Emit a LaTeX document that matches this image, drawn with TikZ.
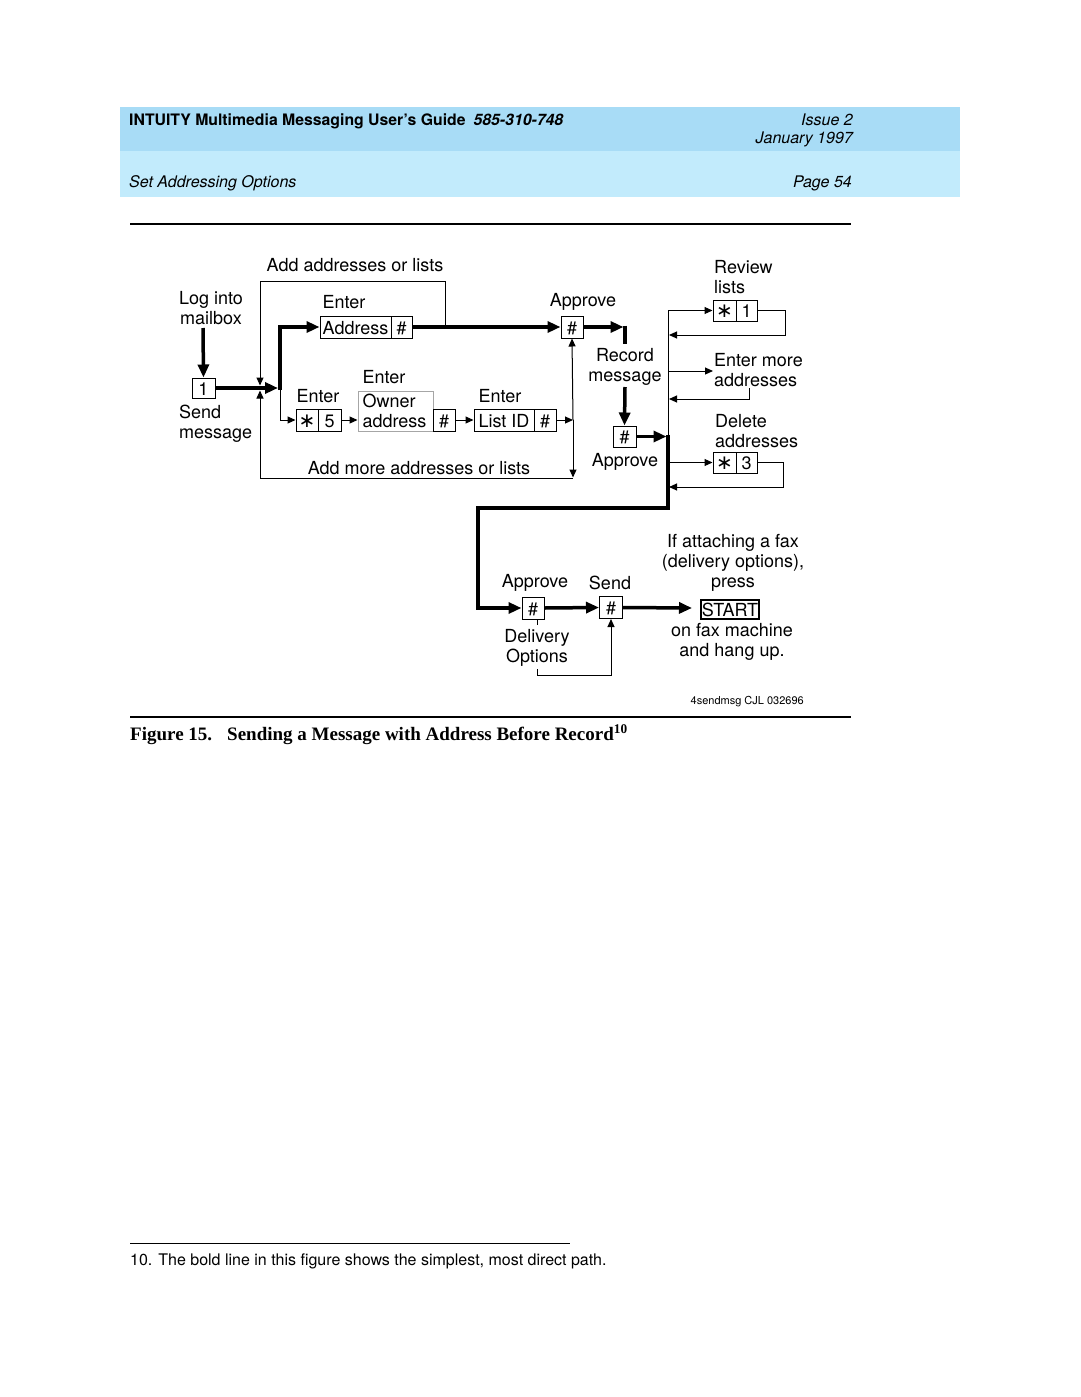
\documentclass[tikz,border=0pt]{standalone}
\usepackage{fontspec}
\setmainfont{TeX Gyre Heros}
\newfontfamily\capfont{Liberation Serif}
\newfontfamily\symfont{DejaVu Sans}
\usetikzlibrary{arrows.meta}
\definecolor{hdrA}{RGB}{168,220,246}
\definecolor{hdrB}{RGB}{194,235,252}
\newcommand{\keystar}{{\symfont\fontsize{20}{20}\selectfont ∗}}
\begin{document}
\begin{tikzpicture}[x=1pt,y=-1pt,line join=miter,
  txt/.style={font=\fontsize{18}{20}\selectfont, inner sep=0pt, align=center},
  ltxt/.style={font=\fontsize{18}{20}\selectfont, inner sep=0pt, align=left},
  key/.style={draw, line width=1pt, inner sep=0pt, minimum height=22pt, text height=14pt, text depth=0pt, font=\fontsize{18}{20}\selectfont},
  thinln/.style={line width=1pt},
  thinar/.style={line width=1pt, -{Triangle[length=8pt,width=7pt]}},
  boldln/.style={line width=3.5pt},
  boldar/.style={line width=3.5pt, -{Triangle[length=13pt,width=11pt]}},
  hdr/.style={inner sep=0pt, font=\fontsize{16}{18}\selectfont},
]
\useasboundingbox (0,0) rectangle (1080,1397);
% header
\fill[hdrA] (120,107) rectangle (960,151);
\fill[hdrB] (120,151) rectangle (960,197);
\node[hdr, anchor=base west, font=\fontsize{15.8}{18}\selectfont] (title) at (129,125) {\bfseries INTUITY Multimedia Messaging User’s Guide\hspace{8pt}\itshape 585-310-748};
\node[hdr, anchor=base east] (issue) at (853,125) {\itshape Issue 2};
\node[hdr, anchor=base east] (date) at (853,143) {\itshape January 1997};
\node[hdr, anchor=base west] (sect) at (129,187) {\itshape Set Addressing Options};
\node[hdr, anchor=base east] (page) at (852,187) {\itshape Page 54};
\draw[line width=2pt] (130,224) -- (851,224);

% left part
\node[txt] (login) at (211,308) {Log into\\mailbox};
\node[key, minimum width=23pt, minimum height=20pt] (one) at (203.5,388) {1};
\node[ltxt, anchor=west] (sendmsg) at (179,424) {Send\\message};
\draw[boldar] (203,328) -- (one.north);
\coordinate (J) at (280,388);
\draw[boldar] (one.east) -- (278,388);

\node[txt] (addlists) at (355,265) {Add addresses or lists};
\node[txt] (enter1) at (344,302) {Enter};
\node[key, minimum width=71pt] (addrA) at (355.5,327) {Address};
\node[key, minimum width=21pt] (addrB) at (401.5,327) {\#};
\draw[boldar] (280,390) -- (280,327) -- (addrA.west);

\node[txt] (enter2) at (318,396) {Enter};
\node[key, minimum width=22pt] (star5A) at (307,420) {\keystar};
\node[key, minimum width=23pt] (star5B) at (329.5,420) {5};
\draw[thinar] (J) -- (280,420) -- (star5A.west);

\node[txt] (enter3) at (384,377) {Enter};
\node[ltxt, draw=black!35, line width=1pt, minimum width=75pt, minimum height=40pt, text width=66pt] (owner) at (395.5,411) {Owner\\address};
\node[key, minimum width=22pt] (ownHash) at (444,420) {\#};
\draw[thinar] (star5B.east) -- (owner.west |- star5B.east);

\node[txt] (enter4) at (500,396) {Enter};
\node[key, minimum width=60pt] (listA) at (504,420) {List ID};
\node[key, minimum width=22pt] (listB) at (545,420) {\#};
\draw[thinar] (ownHash.east) -- (listA.west);

\node[txt] (approve1) at (583,302) {Approve};
\node[key, minimum width=22pt] (hash1) at (572,327) {\#};
\draw[boldar] (addrB.east) -- (hash1.west);
\draw[thinln] (445,327) -- (445,281) -- (260,281);
\draw[thinar] (260,281) -- (260,385.5);

\coordinate (V) at (573,420);
\draw[thinar] (listB.east) -- (V);
\draw[thinar] (V) -- (hash1.south);
\draw[thinar] (V) -- (573,477.5);
\draw[thinar] (573,478) -- (260,478) -- (260,390.5);
\node[txt] (addmore) at (419,468) {Add more addresses or lists};

% record
\draw[boldar] (hash1.east) -- (623.5,327);
\draw[boldln] (625,325.5) -- (625,344);
\node[txt] (record) at (625,367) {Record\\message};
\node[key, minimum width=23pt, minimum height=21pt] (hash2) at (624.5,436.5) {\#};
\draw[boldar] (625,387) -- (hash2.north);
\node[txt] (approve2) at (625,462) {Approve};
\draw[boldar] (hash2.east) -- (666.5,436.5);

% right side
\node[ltxt, anchor=west] (review) at (714,277) {Review\\lists};
\node[key, minimum width=23pt, minimum height=21pt] (star1A) at (724.5,310.5) {\keystar};
\node[key, minimum width=21pt, minimum height=21pt] (star1B) at (746.5,310.5) {1};
\draw[thinar] (668,436) -- (668,310.5) -- (star1A.west);
\draw[thinar] (star1B.east) -- (785,310.5) -- (785,335) -- (669,335);

\node[ltxt, anchor=west] (entermore) at (714,370) {Enter more\\addresses};
\draw[thinar] (668,371) -- (713,371);
\draw[thinar] (749,388) -- (749,399) -- (669,399);

\node[ltxt, anchor=west] (delete) at (715,431) {Delete\\addresses};
\node[key, minimum width=23pt, minimum height=21pt] (star3A) at (724.5,462.5) {\keystar};
\node[key, minimum width=21pt, minimum height=21pt] (star3B) at (746.5,462.5) {3};
\draw[thinar] (668,462.5) -- (star3A.west);
\draw[thinar] (star3B.east) -- (783,462.5) -- (783,487) -- (669,487);

% bottom part
\node[txt] (approve3) at (535,583) {Approve};
\node[key, minimum width=22pt] (hash3) at (533,608) {\#};
\draw[boldar] (668,434.5) -- (668,508) -- (478,508) -- (478,608) -- (hash3.west);
\node[txt] (send) at (610,583) {Send};
\node[key, minimum width=23pt] (hash4) at (611,607.5) {\#};
\draw[boldar] (hash3.east) -- (hash4.west);
\node[draw, line width=2pt, inner xsep=0.5pt, inner ysep=0pt, minimum height=19pt, text height=14pt, text depth=0pt, font=\fontsize{18}{20}\selectfont] (start) at (730,609) {START};
\draw[boldar] (hash4.east) -- (692,608);
\node[txt] (fax1) at (733,563) {If attaching a fax\\(delivery options),\\press};
\node[txt] (fax2) at (732,642) {on fax machine\\and hang up.};
\node[txt] (delivery) at (537,648) {Delivery\\Options};
\draw[thinln] (537,619) -- (537,625);
\draw[thinar] (537,669) -- (537,675.5) -- (611,675.5) -- (hash4.south);

\node[inner sep=0pt, anchor=base east, font=\fontsize{11}{12}\selectfont] (code) at (804,704) {4sendmsg CJL 032696};

% caption
\draw[line width=1.5pt] (130,717) -- (851,717);
\node[inner sep=0pt, anchor=base west, font=\capfont\bfseries\fontsize{19}{22}\selectfont] (figno) at (130,740) {Figure 15.};
\node[inner sep=0pt, anchor=base west, font=\capfont\bfseries\fontsize{19}{22}\selectfont] (captxt) at (227,740) {Sending a Message with Address Before Record\textsuperscript{10}};

% footnote
\draw[line width=1pt] (130,1243) -- (570,1243);
\node[inner sep=0pt, anchor=base west, font=\fontsize{16}{18}\selectfont] (fn) at (130,1265) {10. The bold line in this figure shows the simplest, most direct path.};
\end{tikzpicture}
\end{document}
